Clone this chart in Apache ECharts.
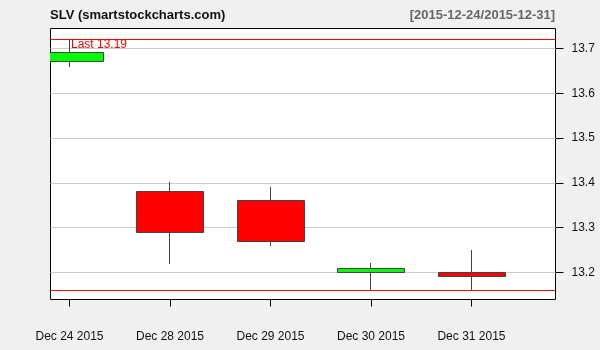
<!DOCTYPE html>
<html>
<head>
<meta charset="utf-8">
<script src="https://cdn.jsdelivr.net/npm/echarts@6/dist/echarts.min.js"></script>
<style>
html,body{margin:0;padding:0;background:#f0f0f0;}
#chart{width:600px;height:350px;}
</style>
</head>
<body>
<div id="chart"></div>
<script>
var dates = ['Dec 24 2015', 'Dec 28 2015', 'Dec 29 2015', 'Dec 30 2015', 'Dec 31 2015'];
var opens  = [13.67, 13.38, 13.36, 13.20, 13.20];
var closes = [13.69, 13.29, 13.27, 13.21, 13.19];
var highs  = [13.72, 13.40, 13.39, 13.22, 13.25];
var lows   = [13.66, 13.22, 13.26, 13.16, 13.16];
var yTicks = [13.2, 13.3, 13.4, 13.5, 13.6, 13.7];
var titleText = 'SLV (smartstockcharts.com)';
var rangeText = '[2015-12-24/2015-12-31]';

var data = dates.map(function (d, i) { return [i, opens[i], closes[i], lows[i], highs[i]]; });
var xIdx = dates.map(function (d, i) { return i; });
var maxHigh = Math.max.apply(null, highs);
var minLow = Math.min.apply(null, lows);
var lastClose = closes[closes.length - 1];
var refLines = [[0, maxHigh], [0, minLow]];

var chart = echarts.init(document.getElementById('chart'), null, {renderer: 'canvas'});
var font = '"Liberation Sans", Arial, sans-serif';

function renderCandle(params, api) {
  var x = api.value(0);
  var o = api.value(1), c = api.value(2), l = api.value(3), h = api.value(4);
  var pO = api.coord([x, o]);
  var pC = api.coord([x, c]);
  var pL = api.coord([x, l]);
  var pH = api.coord([x, h]);
  var w = Math.round(api.size([0.67, 0])[0]);
  var cx = Math.floor(pO[0]) + 0.5;
  var top = Math.floor(Math.min(pO[1], pC[1])) + 0.5;
  var bot = Math.floor(Math.max(pO[1], pC[1])) + 0.5;
  var up = c >= o;
  return {
    type: 'group',
    children: [
      {
        type: 'line',
        shape: {x1: cx, y1: Math.floor(pH[1]), x2: cx, y2: Math.floor(pL[1]) + 1},
        style: {stroke: '#444444', lineWidth: 1}
      },
      {
        type: 'rect',
        shape: {x: cx - Math.floor(w / 2), y: top, width: w, height: Math.max(bot - top, 1)},
        style: {fill: up ? '#00ff00' : '#ff0000', stroke: '#444444', lineWidth: 1}
      }
    ]
  };
}

function renderRef(params, api) {
  var cs = params.coordSys;
  var p = api.coord([api.value(0), api.value(1)]);
  var y = Math.floor(p[1]) + 0.5;
  var children = [{
    type: 'line',
    shape: {x1: cs.x, y1: y, x2: cs.x + cs.width, y2: y},
    style: {stroke: '#ff0000', lineWidth: 1}
  }];
  if (params.dataIndex === 0) {
    children.push({
      type: 'text',
      x: Math.floor(p[0]) + 2,
      y: y - 0.5,
      style: {
        text: 'Last ' + lastClose.toFixed(2),
        fill: '#ff0000',
        font: '12px ' + font,
        verticalAlign: 'top',
        align: 'left'
      }
    });
  }
  return {type: 'group', children: children};
}

function hLine(v, color) {
  return {yAxis: v, lineStyle: {color: color, width: 1, type: 'solid', opacity: 1}};
}

var option = {
  backgroundColor: '#f0f0f0',
  animation: false,
  title: [
    {text: titleText, left: 45, top: 4, textStyle: {fontFamily: font, fontSize: 13, fontWeight: 'bold', color: '#111'}},
    {text: rangeText, right: 40, top: 4, textStyle: {fontFamily: font, fontSize: 13, fontWeight: 'bold', color: '#666'}}
  ],
  grid: {left: 50.5, right: 44.5, top: 28.5, bottom: 50.5, outerBoundsMode: 'none', containLabel: false, show: true, backgroundColor: '#ffffff', borderColor: '#000000', borderWidth: 1},
  xAxis: {
    type: 'value',
    min: -0.189,
    max: 4.836,
    axisLine: {show: false, onZero: false},
    splitLine: {show: false},
    axisTick: {show: true, length: 7, customValues: xIdx, lineStyle: {color: '#000'}},
    axisLabel: {
      customValues: xIdx,
      margin: 31,
      fontFamily: font, fontSize: 12, color: '#111',
      formatter: function (v) { return dates[Math.round(v)] || ''; }
    }
  },
  yAxis: {
    type: 'value',
    position: 'right',
    min: 13.13973,
    max: 13.74464,
    axisLine: {show: false, onZero: false},
    splitLine: {show: false},
    axisTick: {show: true, length: 8, customValues: yTicks, lineStyle: {color: '#000'}},
    axisLabel: {
      customValues: yTicks,
      margin: 16,
      fontFamily: font, fontSize: 12, color: '#111',
      formatter: function (v) { return v.toFixed(1); }
    }
  },
  series: [
    {
      type: 'line',
      data: [],
      silent: true,
      markLine: {
        silent: true,
        symbol: 'none',
        animation: false,
        label: {show: false},
        data: yTicks.map(function (t) { return hLine(t, '#cccccc'); })
      }
    },
    {
      type: 'custom',
      renderItem: renderCandle,
      clip: true,
      silent: true,
      data: data,
      encode: {x: 0, y: [1, 2, 3, 4]},
      z: 5
    },
    {
      type: 'custom',
      renderItem: renderRef,
      clip: false,
      silent: true,
      data: refLines,
      encode: {x: 0, y: 1},
      z: 6
    }
  ]
};
chart.setOption(option);
</script>
</body>
</html>
